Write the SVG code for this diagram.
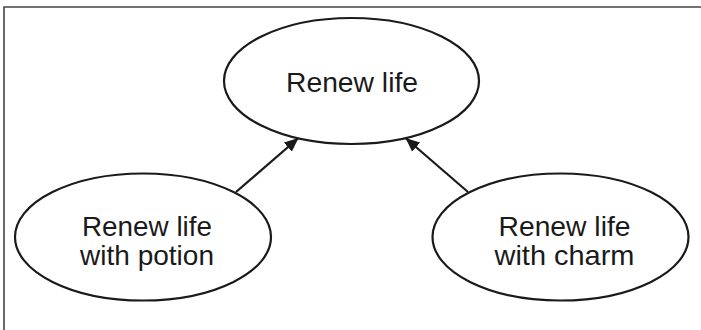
<svg xmlns="http://www.w3.org/2000/svg" width="701" height="330" viewBox="0 0 701 330">
<style>
.node ellipse{fill:#fff;stroke:#1a1a1a;stroke-width:2.2}
.node text{font-family:"Liberation Sans",Arial,sans-serif;font-size:28px;fill:#1a1a1a;text-anchor:middle}
.edge{stroke:#1a1a1a;stroke-width:2.2;fill:none}
</style>
<defs>
<marker id="arr" viewBox="0 0 14 12" refX="14" refY="6" markerWidth="14" markerHeight="12" markerUnits="userSpaceOnUse" orient="auto">
<path d="M0,0 L14,6 L0,12 Z" fill="#1a1a1a"/>
</marker>
</defs>
<rect width="701" height="330" fill="#fff"/>
<path d="M4,331 L4,7 L702,7" fill="none" stroke="#444" stroke-width="1.6"/>
<g id="connectors">
<line class="edge" x1="236" y1="192" x2="298.5" y2="138" marker-end="url(#arr)"/>
<line class="edge" x1="468" y1="192" x2="405.5" y2="138" marker-end="url(#arr)"/>
</g>
<g id="renew-life" class="node">
<ellipse cx="351.5" cy="81" rx="127.5" ry="63"/>
<text x="352" y="92" textLength="132" lengthAdjust="spacingAndGlyphs">Renew life</text>
</g>
<g id="renew-life-potion" class="node">
<ellipse cx="143" cy="237" rx="128" ry="63.5"/>
<text x="147" y="236" textLength="130" lengthAdjust="spacingAndGlyphs">Renew life</text>
<text x="147" y="265" textLength="134" lengthAdjust="spacingAndGlyphs">with potion</text>
</g>
<g id="renew-life-charm" class="node">
<ellipse cx="560.5" cy="237" rx="128" ry="63.5"/>
<text x="564.5" y="236" textLength="132" lengthAdjust="spacingAndGlyphs">Renew life</text>
<text x="564.5" y="265" textLength="140" lengthAdjust="spacingAndGlyphs">with charm</text>
</g>
</svg>
